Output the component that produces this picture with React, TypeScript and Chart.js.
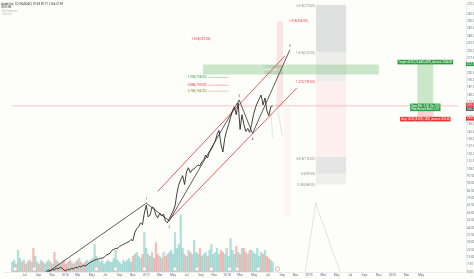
import React, { useEffect, useRef } from "react";
import { Chart, registerables } from "chart.js";

Chart.register(...registerables);
Chart.defaults.font.family = "Roboto, 'Noto Sans', sans-serif";

// Daily sample slots (two slots per session on the time axis)
const BAR_X: number[] = Array.from({ length: 137 }, (_, i) => i * 2);

// Closing prices per session
const CLOSES: number[] = [
  -10, -8, -11, -9, -7, -9, -6, -8, -5, -7, -4, -6, -5, -3, -4, -2, -3, -1,
  1, 2, 1, 3, 2, 4, 3, 5, 4, 2,
  1, 3, 2, 4, 3, 5, 4, 6, 5, 7,
  6, 7, 9, 10, 11, 12, 13, 13, 14, 14,
  15, 17, 18, 19, 22, 23, 24, 24, 26, 27,
  28, 29, 30, 31, 33, 32, 40, 44, 46, 50,
  48, 60, 68, 56, 58, 66, 65, 58, 55, 60,
  57, 59, 52, 50, 54, 58, 62, 67, 80, 89,
  94, 98, 89, 102, 106, 101, 104, 105, 107, 109,
  108, 112, 114, 119, 116, 122, 125, 129, 133, 140,
  144, 130, 122, 136, 144, 150, 157, 164, 168, 160,
  172, 145, 160, 150, 143, 146, 142, 150, 160, 167,
  172, 176, 180, 170, 177, 164, 159, 168, 169,
];

// Session volume (millions)
const VOLUMES: number[] = [
  5, 6, 4, 11, 7, 5, 6, 4, 5, 6,
  5, 12, 8, 5, 4, 6, 5, 4, 5, 6,
  5, 4, 10, 6, 5, 4, 5, 6, 4, 5,
  6, 5, 4, 5, 6, 7, 5, 4, 5, 6,
  5, 6, 7, 14, 8, 6, 5, 6, 4, 5,
  6, 5, 5, 7, 11, 6, 5, 4, 6, 5,
  6, 7, 5, 8, 9, 10, 8, 7, 9, 20,
  12, 9, 8, 10, 7, 15, 9, 8, 7, 10,
  8, 9, 10, 11, 9, 20, 12, 14, 29, 12,
  9, 8, 11, 10, 9, 16, 10, 9, 12, 8,
  9, 10, 8, 11, 14, 9, 10, 12, 9, 11,
  10, 9, 12, 8, 17, 11, 9, 13, 10, 9,
  12, 12, 10, 9, 11, 11, 10, 9, 12, 8,
  10, 9, 11, 8, 7, 6, 5,
];

// Time axis ticks
const TICK_X: number[] = [
  12.7, 27.5, 41.7, 55.5, 68.5, 83, 97, 112, 126, 140, 154, 168, 182, 197, 211,
  224.5, 238, 252.5, 267, 282, 296, 310, 325, 339, 353, 368, 383, 397, 412, 427,
];
const TICK_LABELS: string[] = [
  "Jul", "Sep", "Nov", "2016", "Mar", "May", "Jul", "Sep", "Nov", "2017",
  "Mar", "May", "Jul", "Sep", "Nov", "2018", "Mar", "May", "Jul", "Sep",
  "Nov", "2019", "Mar", "May", "Jul", "Sep", "Nov", "2020", "Mar", "May",
];

// Earnings dates (slot) and the upcoming one
const EARNINGS_X: number[] = [3, 23, 88, 108, 138, 170, 193, 208, 227, 235, 257];
const NEXT_EARNINGS_X: number[] = [277];

// Elliott wave pivots: slot / price
const WAVE_X: number[] = [33, 140, 164, 237, 251, 290];
const WAVE_P: number[] = [-3, 70, 52, 175, 141, 226];
const WAVE_NAMES: string[] = ["", "1", "2", "3", "4", "5"];

// Trend channel
const CHANNEL_UPPER = [{ x: 152, y: 82 }, { x: 285, y: 220 }];
const CHANNEL_LOWER = [{ x: 165, y: 54 }, { x: 297, y: 187 }];

// Fibonacci levels (ratio, price)
const FIB_LEFT_RATIOS: string[] = ["1.618", "1.000", "0.886", "0.786"];
const FIB_LEFT_PRICES: number[] = [237, 198, 190, 184];
const FIB_RIGHT_RATIOS: string[] = ["2.618", "1.618", "1.272", "0.618", "0.5", "0.382"];
const FIB_RIGHT_PRICES: number[] = [270, 223, 193, 115, 99, 88];
const FIB_BAND_EDGES: number[] = [272, 224, 194, 117, 100, 89];

// Position: entry / target / stop
const ENTRY = 169;
const TARGET = 212;
const STOP = 155;

const RED = "#f23645";
const GREEN = "#2e9e44";

const rect = (x0: number, x1: number, top: number, bottom: number, color: string, order = 20) => ({
  type: "line" as const,
  data: [{ x: x0, y: top }, { x: x1, y: top }],
  fill: { value: bottom },
  backgroundColor: color,
  borderWidth: 0,
  borderColor: "rgba(0,0,0,0)",
  pointRadius: 0,
  order,
});

const seg = (pts: { x: number; y: number }[], color: string, width = 1, order = 5) => ({
  type: "line" as const,
  data: pts,
  borderColor: color,
  borderWidth: width,
  pointRadius: 0,
  fill: false,
  order,
});

const overlay = {
  id: "overlay",
  afterDatasetsDraw(chart: any) {
    const { ctx, scales } = chart;
    const X = (v: number) => scales.x.getPixelForValue(v);
    const Y = (v: number) => scales.y.getPixelForValue(v);
    ctx.save();
    ctx.textBaseline = "middle";
    ctx.font = "3px Roboto, sans-serif";

    // left fib group
    const leftColors = [RED, GREEN, RED, "#8a8a3a"];
    FIB_LEFT_RATIOS.forEach((r, i) => {
      const p = FIB_LEFT_PRICES[i];
      ctx.fillStyle = leftColors[i];
      ctx.textAlign = "right";
      ctx.fillText(`${r}(${p.toFixed(2)})`, X(i === 0 ? 207 : 203), Y(p));
      if (i > 0) {
        ctx.strokeStyle = leftColors[i];
        ctx.globalAlpha = 0.6;
        ctx.lineWidth = 0.6;
        ctx.beginPath();
        ctx.moveTo(X(205), Y(p));
        ctx.lineTo(X(226), Y(p));
        ctx.stroke();
        ctx.globalAlpha = 1;
      }
    });

    // right fib group
    FIB_RIGHT_RATIOS.forEach((r, i) => {
      const p = FIB_RIGHT_PRICES[i];
      ctx.fillStyle = i === 2 ? RED : "#8c8c8c";
      ctx.textAlign = "right";
      ctx.fillText(`${r}(${p.toFixed(2)})`, X(316), Y(p));
    });

    ctx.fillStyle = RED;
    ctx.textAlign = "left";
    ctx.fillText(`1.618(${(255).toFixed(2)})`, X(289), Y(255));
    ctx.fillStyle = "#9a9a9a";
    ctx.fillText(`1.272(${(208).toFixed(2)})`, X(262), Y(208));
    ctx.fillText(`1.000(${(202).toFixed(2)})`, X(263), Y(202));

    // wave labels
    ctx.fillStyle = "#444";
    ctx.textAlign = "center";
    WAVE_NAMES.forEach((n, i) => {
      if (!n) return;
      const below = i === 2 || i === 4;
      ctx.fillText(n, X(WAVE_X[i]), Y(WAVE_P[i]) + (below ? 6 : -4));
    });

    // position tool badges
    const badge = (lines: string[], cx: number, cy: number, bg: string) => {
      ctx.font = "2.6px Roboto, sans-serif";
      const w = Math.max(...lines.map((l) => ctx.measureText(l).width)) + 2;
      const h = lines.length * 3 + 1.6;
      ctx.fillStyle = bg;
      ctx.fillRect(cx - w / 2, cy - h / 2, w, h);
      ctx.fillStyle = "#fff";
      ctx.textAlign = "center";
      lines.forEach((l, i) => ctx.fillText(l, cx, cy - h / 2 + 2.3 + i * 3));
    };
    badge([`Target: ${(TARGET - ENTRY).toFixed(2)} (25.44%) 4300, Amount: 2544.38`], X(431.5), Y(TARGET) - 1.5, GREEN);
    badge([`Open P&L: 0.00, Qty: 100`, `Risk/Reward Ratio: ${((TARGET - ENTRY) / (ENTRY - STOP)).toFixed(2)}`], X(431.5), Y(ENTRY) + 1.5, GREEN);
    badge([`Stop: ${(ENTRY - STOP).toFixed(2)} (8.28%) 1400, Amount: 828.40`], X(431.5), Y(STOP) - 0.5, "#e53935");
    ctx.restore();
  },
  afterDraw(chart: any) {
    const { ctx, scales, chartArea } = chart;
    const Y = (v: number) => scales.y.getPixelForValue(v);
    ctx.save();
    ctx.textBaseline = "middle";
    const axisBadge = (p: number, bg: string, text: string, dy = 0) => {
      ctx.fillStyle = bg;
      ctx.fillRect(chartArea.right, Y(p) - 2 + dy, 8, 4);
      ctx.fillStyle = "#fff";
      ctx.font = "3px Roboto, sans-serif";
      ctx.textAlign = "left";
      ctx.fillText(text, chartArea.right + 0.8, Y(p) + dy);
    };
    axisBadge(TARGET, GREEN, TARGET.toFixed(2), 0.5);
    axisBadge(ENTRY, RED, ENTRY.toFixed(2), -1);
    axisBadge(ENTRY, "#555", "166.00", 3);
    axisBadge(STOP, "#e53935", STOP.toFixed(2), -1);

    // title
    ctx.textAlign = "left";
    ctx.fillStyle = "#333";
    ctx.font = "3px Roboto, sans-serif";
    ctx.fillText("Apple Inc, 1D, NASDAQ  O169 H171 L166 C169", 1, 4);
    ctx.font = "2.6px Roboto, sans-serif";
    ctx.fillText("Vol 8.9M", 1, 7.5);
    ctx.fillStyle = "#bbb";
    ctx.fillText("Fib Extension", 2, 11);
    ctx.fillText("Channel", 2, 14);
    ctx.restore();
  },
};

export default function App() {
  const ref = useRef<HTMLCanvasElement | null>(null);

  useEffect(() => {
    if (!ref.current) return;
    const pricePts = BAR_X.map((x, i) => ({ x, y: CLOSES[i] }));
    const volPts = BAR_X.map((x, i) => ({ x, y: VOLUMES[i] }));
    const volColors = CLOSES.map((c, i) =>
      i === 0 || c >= CLOSES[i - 1] ? "rgba(38,166,154,0.35)" : "rgba(239,83,80,0.38)"
    );
    const last = CLOSES[CLOSES.length - 1];
    const wavePts = WAVE_X.map((x, i) => ({ x, y: WAVE_P[i] }));

    const chart = new Chart(ref.current, {
      type: "line",
      data: {
        datasets: [
          // fib column bands
          rect(317, 349, FIB_BAND_EDGES[0], FIB_BAND_EDGES[1], "rgba(120,123,134,0.22)"),
          rect(317, 349, FIB_BAND_EDGES[1], FIB_BAND_EDGES[2], "rgba(120,123,134,0.12)"),
          rect(317, 349, FIB_BAND_EDGES[2], FIB_BAND_EDGES[3], "rgba(242,54,69,0.07)"),
          rect(317, 349, FIB_BAND_EDGES[3], FIB_BAND_EDGES[4], "rgba(120,123,134,0.18)"),
          rect(317, 349, FIB_BAND_EDGES[4], FIB_BAND_EDGES[5], "rgba(120,123,134,0.1)"),
          // target zone
          rect(199, 383, 211, 201, "rgba(76,175,80,0.28)"),
          // time-range highlights
          rect(276, 283, 255, last, "rgba(242,54,69,0.12)"),
          rect(284, 291, 167, 57, "rgba(242,54,69,0.04)"),
          // position tool
          rect(423, 440, TARGET, ENTRY, "rgba(76,175,80,0.28)"),
          rect(423, 440, ENTRY, STOP, "rgba(242,54,69,0.22)"),
          // last price line
          seg([{ x: 0, y: last }, { x: 466, y: last }], "rgba(242,54,69,0.35)", 0.8, 15),
          // projections
          seg([{ x: 305, y: -7 }, { x: 317, y: 70 }, { x: 345, y: -7 }], "rgba(130,130,130,0.3)", 0.7, 15),
          seg([{ x: 276, y: 172 }, { x: 282, y: 139 }], "rgba(130,130,130,0.35)", 0.6, 15),
          seg([{ x: 270, y: 166 }, { x: 272, y: 136 }], "rgba(130,130,130,0.3)", 0.6, 15),
          // volume
          {
            type: "bar" as const,
            data: volPts,
            yAxisID: "yv",
            backgroundColor: volColors,
            barThickness: 1.6,
            grouped: false,
            order: 12,
          },
          // channel
          seg(CHANNEL_UPPER, "rgba(229,57,53,0.8)", 1, 4),
          seg(CHANNEL_LOWER, "rgba(229,57,53,0.8)", 1, 4),
          // wave count
          seg(wavePts, "#333", 0.8, 3),
          // price
          {
            type: "line" as const,
            data: pricePts,
            borderColor: "#2a2a2a",
            borderWidth: 0.9,
            pointRadius: 0,
            fill: false,
            order: 1,
          },
          // earnings markers
          {
            type: "scatter" as const,
            data: EARNINGS_X.map((x) => ({ x, y: 3 })),
            pointRadius: 2.2,
            pointBackgroundColor: "#f7f7f7",
            pointBorderColor: "#c9a9a9",
            pointBorderWidth: 0.6,
            order: 0,
          },
          {
            type: "scatter" as const,
            data: NEXT_EARNINGS_X.map((x) => ({ x, y: 3 })),
            pointRadius: 2.2,
            pointBackgroundColor: "rgba(255,255,255,0)",
            pointBorderColor: "#d09090",
            pointBorderWidth: 0.6,
            order: 0,
          },
        ] as any,
      },
      options: {
        animation: false,
        responsive: true,
        maintainAspectRatio: false,
        events: [],
        layout: { padding: 0 },
        elements: { line: { tension: 0 } },
        plugins: {
          legend: { display: false },
          tooltip: { enabled: false },
        },
        scales: {
          x: {
            type: "linear",
            min: 0,
            max: 466,
            grid: { display: false, drawTicks: false },
            border: { display: true, color: "#e0e3eb", width: 0.6 },
            ticks: {
              autoSkip: false,
              maxRotation: 0,
              padding: 1.5,
              color: "#6a6d78",
              font: { size: 3.2 },
              callback: (_v: any, i: number) => TICK_LABELS[i],
            },
            afterBuildTicks: (axis: any) => {
              axis.ticks = TICK_X.map((v) => ({ value: v }));
            },
            afterFit: (axis: any) => {
              axis.height = 7;
            },
          },
          y: {
            type: "linear",
            position: "right",
            min: 0,
            max: 272,
            grid: { display: false, drawTicks: false },
            border: { display: true, color: "#e0e3eb", width: 0.6 },
            ticks: {
              stepSize: 7.5,
              padding: 1,
              color: "#6a6d78",
              font: { size: 3 },
              callback: (v: any) => Number(v).toFixed(2),
            },
            afterFit: (axis: any) => {
              axis.width = 8;
            },
          },
          yv: {
            type: "linear",
            display: false,
            min: 0,
            max: 136,
          },
        },
      },
      plugins: [overlay],
    });
    return () => chart.destroy();
  }, []);

  return (
    <div
      style={{
        position: "fixed",
        left: 0,
        top: 0,
        width: 474,
        height: 279,
        background: "#fdfdfa",
      }}
    >
      <canvas ref={ref} />
    </div>
  );
}
